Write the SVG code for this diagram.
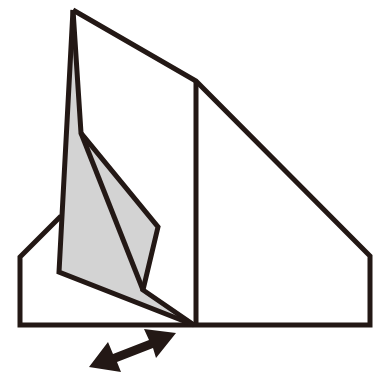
<svg xmlns="http://www.w3.org/2000/svg" width="376" height="373" viewBox="0 0 376 373">
<style>
.l{fill:none;stroke:#231815;stroke-width:5;stroke-linejoin:miter;stroke-miterlimit:10}
.g{fill:#d3d3d3}
</style>
<rect width="376" height="373" fill="#fff"/>
<g id="outline">
<path class="l" d="M61 216L20 257V325H370V256L196 81L73 10"/>
<path class="l" d="M196 81V325"/>
</g>
<g id="fold">
<path class="g" d="M73 10L81 133L158 227L143 290L194 325L59 272Z"/>
<path class="l" d="M73 10L81 133L158 227L143 290L194 325"/>
<path class="l" d="M194 325L59 272L73 10"/>
<path class="l" d="M81 133L143 290"/>
</g>
<g id="arrow">
<path fill="#231815" d="M176 333L144 329L149 340L113 354L108 342L89 367L121 372L117 362L153 348L156 358Z"/>
</g>
</svg>
